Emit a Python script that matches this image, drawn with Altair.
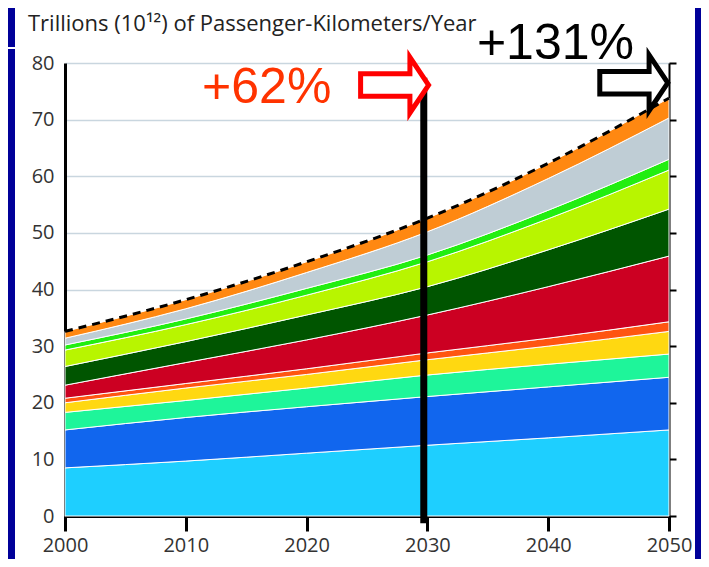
import altair as alt
import pandas as pd

# ---- data (cumulative tops of each stacked band) ----
years = [2000, 2010, 2020, 2030, 2040, 2050]

layer_names = [
    "Layer 1", "Layer 2", "Layer 3", "Layer 4", "Layer 5", "Layer 6",
    "Layer 7", "Layer 8", "Layer 9", "Layer 10", "Layer 11",
]
top_1 = [8.5, 9.7, 11.1, 12.5, 13.8, 15.2]
top_2 = [15.2, 17.4, 19.3, 21.1, 22.8, 24.5]
top_3 = [18.3, 20.4, 22.6, 24.9, 26.8, 28.6]
top_4 = [20.0, 22.6, 25.0, 27.6, 30.0, 32.6]
top_5 = [20.8, 23.4, 26.0, 28.8, 31.4, 34.3]
top_6 = [23.1, 27.1, 31.1, 35.5, 40.5, 45.9]
top_7 = [26.4, 30.8, 35.5, 40.5, 47.0, 54.2]
top_8 = [29.3, 33.8, 39.0, 44.9, 52.5, 61.1]
top_9 = [30.2, 34.8, 40.2, 46.1, 54.0, 63.0]
top_10 = [31.4, 36.6, 43.0, 50.2, 59.6, 70.3]
top_11 = [32.6, 38.2, 44.9, 52.6, 62.3, 73.8]

layer_colors = [
    "#1ECFFF", "#1166EE", "#1EF59A", "#FFD811", "#FF5511", "#CC0022",
    "#005500", "#B8F500", "#22EE11", "#BFCDD5", "#FF8811",
]

y_ticks = [0, 10, 20, 30, 40, 50, 60, 70, 80]
x_ticks = [2000, 2010, 2020, 2030, 2040, 2050]

title_text = "Trillions (10¹²) of Passenger-Kilometers/Year"
ann_62 = ["+62%"]
ann_62_year = [2016.7]
ann_62_value = [72.9]
ann_131 = ["+131%"]
ann_131_year = [2040.6]
ann_131_value = [80.7]

marker_year = [2029.7]
marker_top = [77.4]
marker_bottom = [-1.3]

red_arrow_tip = [2030.1, 76.1]
black_arrow_tip = [2049.9, 76.5]

# ---- tables ----
tops = [top_1, top_2, top_3, top_4, top_5, top_6, top_7, top_8, top_9, top_10, top_11]
rows = []
prev = [0.0] * len(years)
for i, (name, t) in enumerate(zip(layer_names, tops)):
    for j, yr in enumerate(years):
        rows.append({"year": yr, "layer": name, "idx": i, "top": t[j], "bottom": prev[j]})
    prev = t
bands = pd.DataFrame(rows)
total = pd.DataFrame({"year": years, "total": top_11})

xscale = alt.Scale(domain=[2000, 2050], nice=False, zero=False)
yscale = alt.Scale(domain=[0, 80], nice=False, zero=True)

FONT = "Open Sans"

x_axis = alt.Axis(
    values=x_ticks, format="d", title=None, grid=False,
    domainColor="black", domainWidth=3, tickColor="black", tickWidth=3, tickSize=15,
    labelFont=FONT, labelFontSize=20, labelColor="#333333", labelPadding=4,
    labelFlush=False,
)
y_axis_left = alt.Axis(
    values=y_ticks, title=None, grid=True, gridColor="#C9D6DF", gridWidth=1.5,
    domainColor="black", domainWidth=3, ticks=False,
    labelFont=FONT, labelFontSize=20, labelColor="#333333", labelPadding=11,
)
y_axis_right = alt.Axis(
    orient="right", values=y_ticks, title=None, grid=False, labels=False,
    domainColor="black", domainWidth=2, tickColor="black", tickWidth=2, tickSize=7,
)

one = pd.DataFrame({"a": [0]})

# blue frame strips (slide background)
blue = "#000099"
frame_left_top = alt.Chart(one).mark_rect(color=blue).encode(
    x=alt.value(-57), x2=alt.value(-50), y=alt.value(-55), y2=alt.value(-16))
frame_left_bot = alt.Chart(one).mark_rect(color=blue).encode(
    x=alt.value(-57), x2=alt.value(-50), y=alt.value(-14), y2=alt.value(510))
frame_right = alt.Chart(one).mark_rect(color=blue).encode(
    x=alt.value(630), x2=alt.value(650), y=alt.value(-55), y2=alt.value(510))

areas = alt.Chart(bands).mark_area(
    interpolate="monotone", stroke="white", strokeWidth=1, opacity=1
).encode(
    x=alt.X("year:Q", scale=xscale, axis=x_axis),
    y=alt.Y("top:Q", scale=yscale, axis=y_axis_left),
    y2="bottom:Q",
    color=alt.Color("layer:N", scale=alt.Scale(domain=layer_names, range=layer_colors), legend=None),
    order=alt.Order("idx:Q"),
)

dashed = alt.Chart(total).mark_line(
    interpolate="monotone", color="black", strokeWidth=3, strokeDash=[8, 6]
).encode(
    x=alt.X("year:Q", scale=xscale, axis=x_axis),
    y=alt.Y("total:Q", scale=yscale, axis=y_axis_right),
)

marker = alt.Chart(pd.DataFrame({"x": marker_year, "y": marker_top, "y2": marker_bottom})).mark_rule(
    color="black", strokeWidth=7
).encode(
    x=alt.X("x:Q", scale=xscale, axis=x_axis),
    y=alt.Y("y:Q", scale=yscale, axis=None),
    y2="y2:Q",
)

arrow_path = "M0,0 L-0.55,-0.82 L-0.55,-0.33 L-2,-0.33 L-2,0.33 L-0.55,0.33 L-0.55,0.82 Z"

red_arrow = alt.Chart(pd.DataFrame({"x": [red_arrow_tip[0]], "y": [red_arrow_tip[1]]})).mark_point(
    shape=arrow_path, size=4624, filled=False, fill="white", fillOpacity=1,
    stroke="#FF0000", strokeWidth=5, opacity=1, strokeJoin="miter",
).encode(
    x=alt.X("x:Q", scale=xscale, axis=x_axis),
    y=alt.Y("y:Q", scale=yscale, axis=None),
)
black_arrow = alt.Chart(pd.DataFrame({"x": [black_arrow_tip[0]], "y": [black_arrow_tip[1]]})).mark_point(
    shape=arrow_path, size=4624, filled=False, fill="white", fillOpacity=1,
    stroke="black", strokeWidth=5, opacity=1, strokeJoin="miter",
).encode(
    x=alt.X("x:Q", scale=xscale, axis=x_axis),
    y=alt.Y("y:Q", scale=yscale, axis=None),
)

text_62 = alt.Chart(pd.DataFrame({"t": ann_62, "x": ann_62_year, "y": ann_62_value})).mark_text(
    font="Liberation Sans", fontSize=50, color="#FF3300", align="center", baseline="alphabetic"
).encode(
    x=alt.X("x:Q", scale=xscale, axis=x_axis),
    y=alt.Y("y:Q", scale=yscale, axis=None),
    text="t:N",
)
text_131 = alt.Chart(pd.DataFrame({"t": ann_131, "x": ann_131_year, "y": ann_131_value})).mark_text(
    font="Liberation Sans", fontSize=50, color="black", align="center", baseline="alphabetic"
).encode(
    x=alt.X("x:Q", scale=xscale, axis=x_axis),
    y=alt.Y("y:Q", scale=yscale, axis=None),
    text="t:N",
)

title = alt.Chart(pd.DataFrame({"t": [title_text]})).mark_text(
    font=FONT, fontSize=22, color="#222222", align="left", baseline="alphabetic"
).encode(
    x=alt.value(-37), y=alt.value(-32), text="t:N",
)

chart = alt.layer(
    frame_left_top, frame_left_bot, frame_right,
    areas, dashed, marker, red_arrow, black_arrow, text_62, text_131, title,
).resolve_axis(y="independent").properties(
    width=604, height=453,
    autosize=alt.AutoSizeParams(type="none"),
    padding={"left": 57, "top": 55, "right": 32, "bottom": 43},
    background="white",
).configure_view(stroke="transparent")

chart.save("out.html", embed_options={"renderer": "svg", "actions": False})
